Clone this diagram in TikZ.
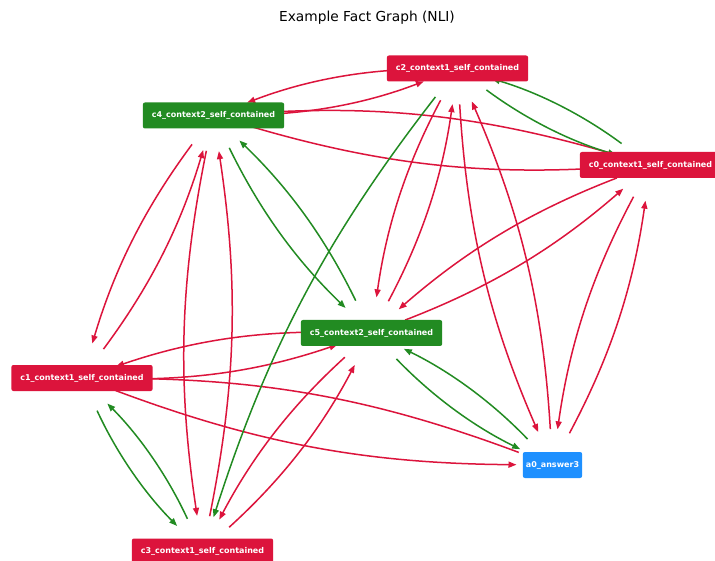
\documentclass[tikz,border=0pt]{standalone}
\usepackage{fontspec}
\setmainfont{DejaVu Sans}
\usetikzlibrary{arrows.meta}
\definecolor{custom-red}{RGB}{220, 20, 60}
\definecolor{custom-green}{RGB}{34, 139, 34}
\definecolor{custom-blue}{RGB}{30, 144, 255}

\begin{document}
\begin{tikzpicture}[x=1pt, y=-1pt,
  factbox/.style={rounded corners=2pt, text=white, font=\bfseries\fontsize{8}{9}\selectfont,
    inner xsep=9pt, inner ysep=0pt, minimum height=26pt, text height=6pt, text depth=1.7pt},
  redarc/.style={draw=custom-red, line width=1.5pt, -{Triangle[length=8pt,width=6pt]},
    shorten <=36pt, shorten >=36pt, bend right=10},
  greenarc/.style={redarc, draw=custom-green}]
\fill[white] (0,0) rectangle (715,561);
\useasboundingbox (0,0) rectangle (715,561);

\coordinate (p-c2) at (457.5,68.5);
\coordinate (p-c4) at (213.5,115.5);
\coordinate (p-c0) at (650.5,165);
\coordinate (p-c5) at (371.5,333);
\coordinate (p-c1) at (82,378);
\coordinate (p-a0) at (552.5,465);
\coordinate (p-c3) at (202.5,551.5);

\node (title) at (367,18) {\fontsize{13.75}{16}\selectfont Example Fact Graph (NLI)};

% red edges
\draw[redarc] (p-c2) to (p-c4);
\draw[redarc] (p-c4) to (p-c2);
\draw[redarc] (p-c4) to (p-c0);
\draw[redarc] (p-c0) to (p-c4);
\draw[redarc] (p-c2) to (p-c5);
\draw[redarc] (p-c5) to (p-c2);
\draw[redarc] (p-c2) to (p-a0);
\draw[redarc] (p-a0) to (p-c2);
\draw[redarc] (p-c0) to (p-c5);
\draw[redarc] (p-c5) to (p-c0);
\draw[redarc] (p-c0) to (p-a0);
\draw[redarc] (p-a0) to (p-c0);
\draw[redarc] (p-c4) to (p-c1);
\draw[redarc] (p-c1) to (p-c4);
\draw[redarc] (p-c4) to (p-c3);
\draw[redarc] (p-c3) to (p-c4);
\draw[redarc] (p-c1) to (p-c5);
\draw[redarc] (p-c5) to (p-c1);
\draw[redarc] (p-c1) to (p-a0);
\draw[redarc] (p-a0) to (p-c1);
\draw[redarc] (p-c3) to (p-c5);
\draw[redarc] (p-c5) to (p-c3);
% green edges
\draw[greenarc] (p-c2) to (p-c0);
\draw[greenarc] (p-c0) to (p-c2);
\draw[greenarc] (p-c4) to (p-c5);
\draw[greenarc] (p-c5) to (p-c4);
\draw[greenarc] (p-c2) to (p-c3);
\draw[greenarc] (p-c5) to (p-a0);
\draw[greenarc] (p-a0) to (p-c5);
\draw[greenarc] (p-c1) to (p-c3);
\draw[greenarc] (p-c3) to (p-c1);

% boxes on top
\node[factbox, fill=custom-red] (c2) at (p-c2) {c2\_context1\_self\_contained};
\node[factbox, fill=custom-green] (c4) at (p-c4) {c4\_context2\_self\_contained};
\node[factbox, fill=custom-red] (c0) at (p-c0) {c0\_context1\_self\_contained};
\node[factbox, fill=custom-green] (c5) at (p-c5) {c5\_context2\_self\_contained};
\node[factbox, fill=custom-red] (c1) at (p-c1) {c1\_context1\_self\_contained};
\node[factbox, fill=custom-blue, inner xsep=3pt] (a0) at (p-a0) {a0\_answer3};
\node[factbox, fill=custom-red] (c3) at (p-c3) {c3\_context1\_self\_contained};
\end{tikzpicture}
\end{document}
